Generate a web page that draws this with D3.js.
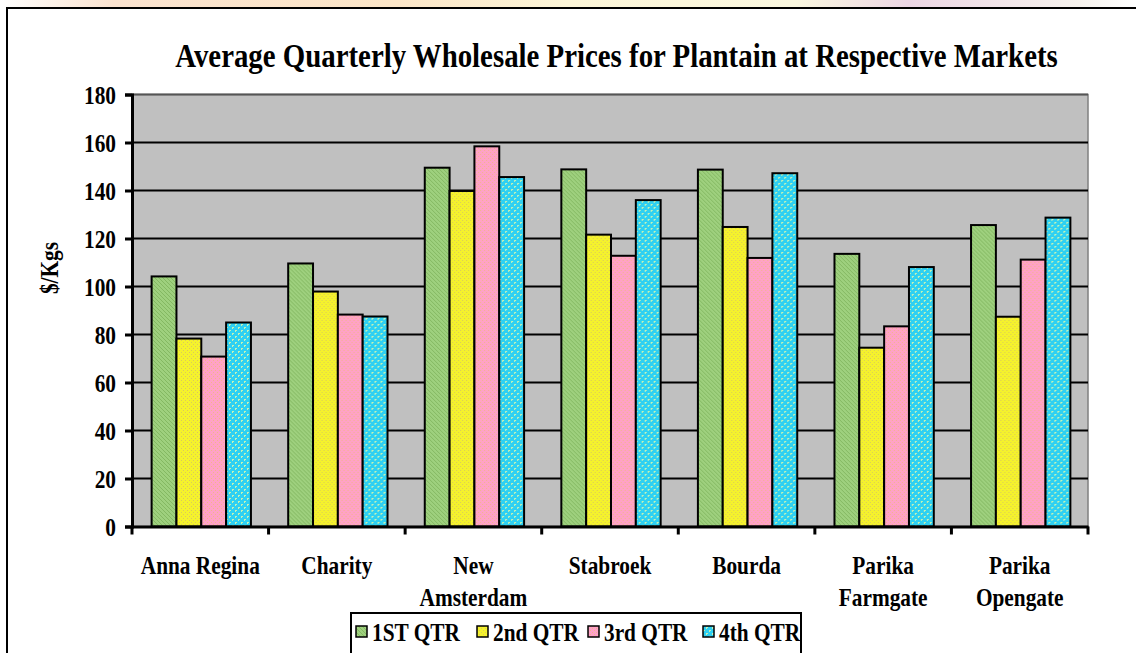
<!DOCTYPE html>
<html><head><meta charset="utf-8">
<script src="https://cdn.jsdelivr.net/npm/d3@7"></script>
<style>
body{margin:0;background:#fff;overflow:hidden}
svg{display:block}
svg text{font-family:"Liberation Serif","Times New Roman",serif !important;font-weight:bold;fill:#000}
</style>
</head><body>
<svg id="c" width="1136" height="653"></svg>
<script>
// ---- data ----
const markets = ["Anna Regina","Charity","New Amsterdam","Stabroek","Bourda","Parika Farmgate","Parika Opengate"];
const marketLines = [["Anna Regina"],["Charity"],["New","Amsterdam"],["Stabroek"],["Bourda"],["Parika","Farmgate"],["Parika","Opengate"]];
const quarters = ["1ST QTR","2nd QTR","3rd QTR","4th QTR"];
const q1 = [104.2,109.6,149.5,148.8,148.7,113.6,125.6];
const q2 = [78.3,97.9,139.8,121.6,124.8,74.5,87.4];
const q3 = [70.8,88.3,158.4,112.8,111.9,83.4,111.2];
const q4 = [85.0,87.5,145.6,136.0,147.2,108.1,128.7];
const yTicks = [0,20,40,60,80,100,120,140,160,180];
const titleText = "Average Quarterly Wholesale Prices for Plantain at Respective Markets";
const yTitle = "$/Kgs";

const series = [q1,q2,q3,q4];
const rows = markets.map((m,i)=>({market:m, lines:marketLines[i], values:quarters.map((q,j)=>({q, v:series[j][i]}))}));

const svg = d3.select("#c");
const FONT = "'Liberation Serif', 'Times New Roman', serif";
const K = 0.82; // horizontal text compression
function compress(sel,k){ sel.each(function(){ const w=this.getComputedTextLength(); this.setAttribute("textLength", (w*k).toFixed(2)); this.setAttribute("lengthAdjust","spacingAndGlyphs"); }); }

// ---- patterns ----
const defs = svg.append("defs");
function pat(id, size, bg, dots, col){
  const p = defs.append("pattern").attr("id",id).attr("patternUnits","userSpaceOnUse").attr("width",size).attr("height",size);
  p.append("rect").attr("width",size).attr("height",size).attr("fill",bg);
  dots.forEach(d=>p.append("rect").attr("x",d[0]).attr("y",d[1]).attr("width",1).attr("height",1).attr("fill",col));
  return "url(#"+id+")";
}
const fills = [
  pat("pg",4,"#9ed07e",[[0,0],[1,1],[2,2],[3,3]],"#84b862"),
  pat("py",4,"#f5f22c",[[0,0],[2,2]],"#d9ca5c"),
  pat("pp",4,"#ffa2c6",[[0,0],[2,2]],"#f2b48a"),
  pat("pc",6,"#2ed0f2",[[0,0],[1,0],[0,1],[3,3],[4,3],[3,4]],"#c6f2b4")
];
const color = d3.scaleOrdinal().domain(quarters).range(fills);

// faint watermark strip above the frame
const wg = defs.append("linearGradient").attr("id","wm").attr("x1",0).attr("x2",1);
[[0,"#ffffff"],[0.1,"#fbe3cf"],[0.35,"#fce6c8"],[0.5,"#fdf6d8"],[0.7,"#fbf8e0"],[0.8,"#ecd6e4"],[0.95,"#f7f3ee"],[1,"#ffffff"]].forEach(s=>wg.append("stop").attr("offset",s[0]).attr("stop-color",s[1]));
svg.append("rect").attr("x",0).attr("y",0).attr("width",1136).attr("height",8).attr("fill","url(#wm)");

// outer frame
svg.append("rect").attr("x",7).attr("y",8).attr("width",1140).attr("height",700).attr("fill","#fff").attr("stroke","#000").attr("stroke-width",2);

// ---- scales ----
const plot = {l:132, r:1088, t:94.5, b:526.5};
const x0 = d3.scaleBand().domain(markets).range([plot.l, plot.r]).paddingInner(0).paddingOuter(0);
const x1 = d3.scaleBand().domain(quarters).range([0, x0.bandwidth()]).paddingInner(0).paddingOuter(0.75);
const y = d3.scaleLinear().domain([0,180]).range([plot.b, plot.t]);

// plot area
svg.append("rect").attr("x",plot.l).attr("y",plot.t).attr("width",plot.r-plot.l).attr("height",plot.b-plot.t)
  .attr("fill","#c0c0c0").attr("stroke","#808080").attr("stroke-width",1.5);

// gridlines
svg.append("g").selectAll("line").data(yTicks.filter(d=>d>0)).join("line")
  .attr("x1",plot.l).attr("x2",plot.r).attr("y1",d=>y(d)).attr("y2",d=>y(d))
  .attr("stroke",d=>d===180?"#555":"#000").attr("stroke-width",2);

// bars
const gBars = svg.append("g").selectAll("g").data(rows).join("g").attr("transform",d=>`translate(${x0(d.market)+1},0)`);
gBars.selectAll("rect").data(d=>d.values).join("rect")
  .attr("x",d=>x1(d.q)).attr("width",x1.bandwidth())
  .attr("y",d=>y(d.v)).attr("height",d=>y(0)-y(d.v))
  .attr("fill",d=>color(d.q)).attr("stroke","#000").attr("stroke-width",2);

// y axis
const yAxis = svg.append("g").attr("transform",`translate(${plot.l},0)`)
  .call(d3.axisLeft(y).tickValues(yTicks).tickSize(7).tickPadding(9));
yAxis.attr("font-family",FONT).attr("font-size",26);
yAxis.select(".domain").attr("stroke","#000").attr("stroke-width",3);
yAxis.selectAll(".tick line").attr("stroke","#000").attr("stroke-width",3);
yAxis.selectAll(".tick text").attr("font-size",26).attr("font-family",FONT).attr("font-weight","bold").attr("dy","0.34em").call(compress,K);

// x axis
const xAxis = svg.append("g").attr("transform",`translate(0,${plot.b})`)
  .call(d3.axisBottom(x0).tickSize(0).tickFormat(""));
xAxis.select(".domain").attr("stroke","#000").attr("stroke-width",3);
const bounds = markets.map(m=>x0(m)).concat([x0.range()[1]]);
xAxis.selectAll("line.b").data(bounds).join("line").attr("class","b")
  .attr("x1",d=>d).attr("x2",d=>d).attr("y1",0).attr("y2",8).attr("stroke","#000").attr("stroke-width",3);

// category labels
const lab = svg.append("g").attr("font-family",FONT).selectAll("g").data(rows).join("g");
lab.selectAll("text").data(d=>d.lines.map((t,i)=>({t,i,cx:x0(d.market)+x0.bandwidth()/2}))).join("text")
  .attr("x",d=>d.cx).attr("y",d=>574+d.i*32).attr("text-anchor","middle").attr("font-family",FONT).attr("font-size",26).text(d=>d.t).call(compress,K);

// y title
svg.append("text").attr("transform","translate(58,268) rotate(-90)").attr("text-anchor","middle").attr("font-family",FONT).attr("font-size",26).text(yTitle).call(compress,K);

// chart title (scaled horizontally to the reference width)
const tg = svg.append("g");
const tt = tg.append("text").attr("x",0).attr("y",0).attr("text-anchor","middle").attr("font-family",FONT).attr("font-size",34).text(titleText);
const tw = tt.node().getComputedTextLength();
tg.attr("transform",`translate(616.5,67) scale(${(883/tw).toFixed(4)},1)`);

// legend
const lg = svg.append("g");
lg.append("rect").attr("x",351).attr("y",613).attr("width",450).attr("height",60).attr("fill","#fff").attr("stroke","#000").attr("stroke-width",2);
const legX = [356,477,588,703];
const items = lg.selectAll("g").data(quarters).join("g").attr("transform",(d,i)=>`translate(${legX[i]},0)`);
items.append("rect").attr("x",0).attr("y",626).attr("width",11).attr("height",11).attr("fill",d=>color(d)).attr("stroke","#000").attr("stroke-width",1.5);
items.append("text").attr("x",16).attr("y",641).attr("font-family",FONT).attr("font-size",26).text(d=>d).call(compress,K);
</script>
</body></html>
